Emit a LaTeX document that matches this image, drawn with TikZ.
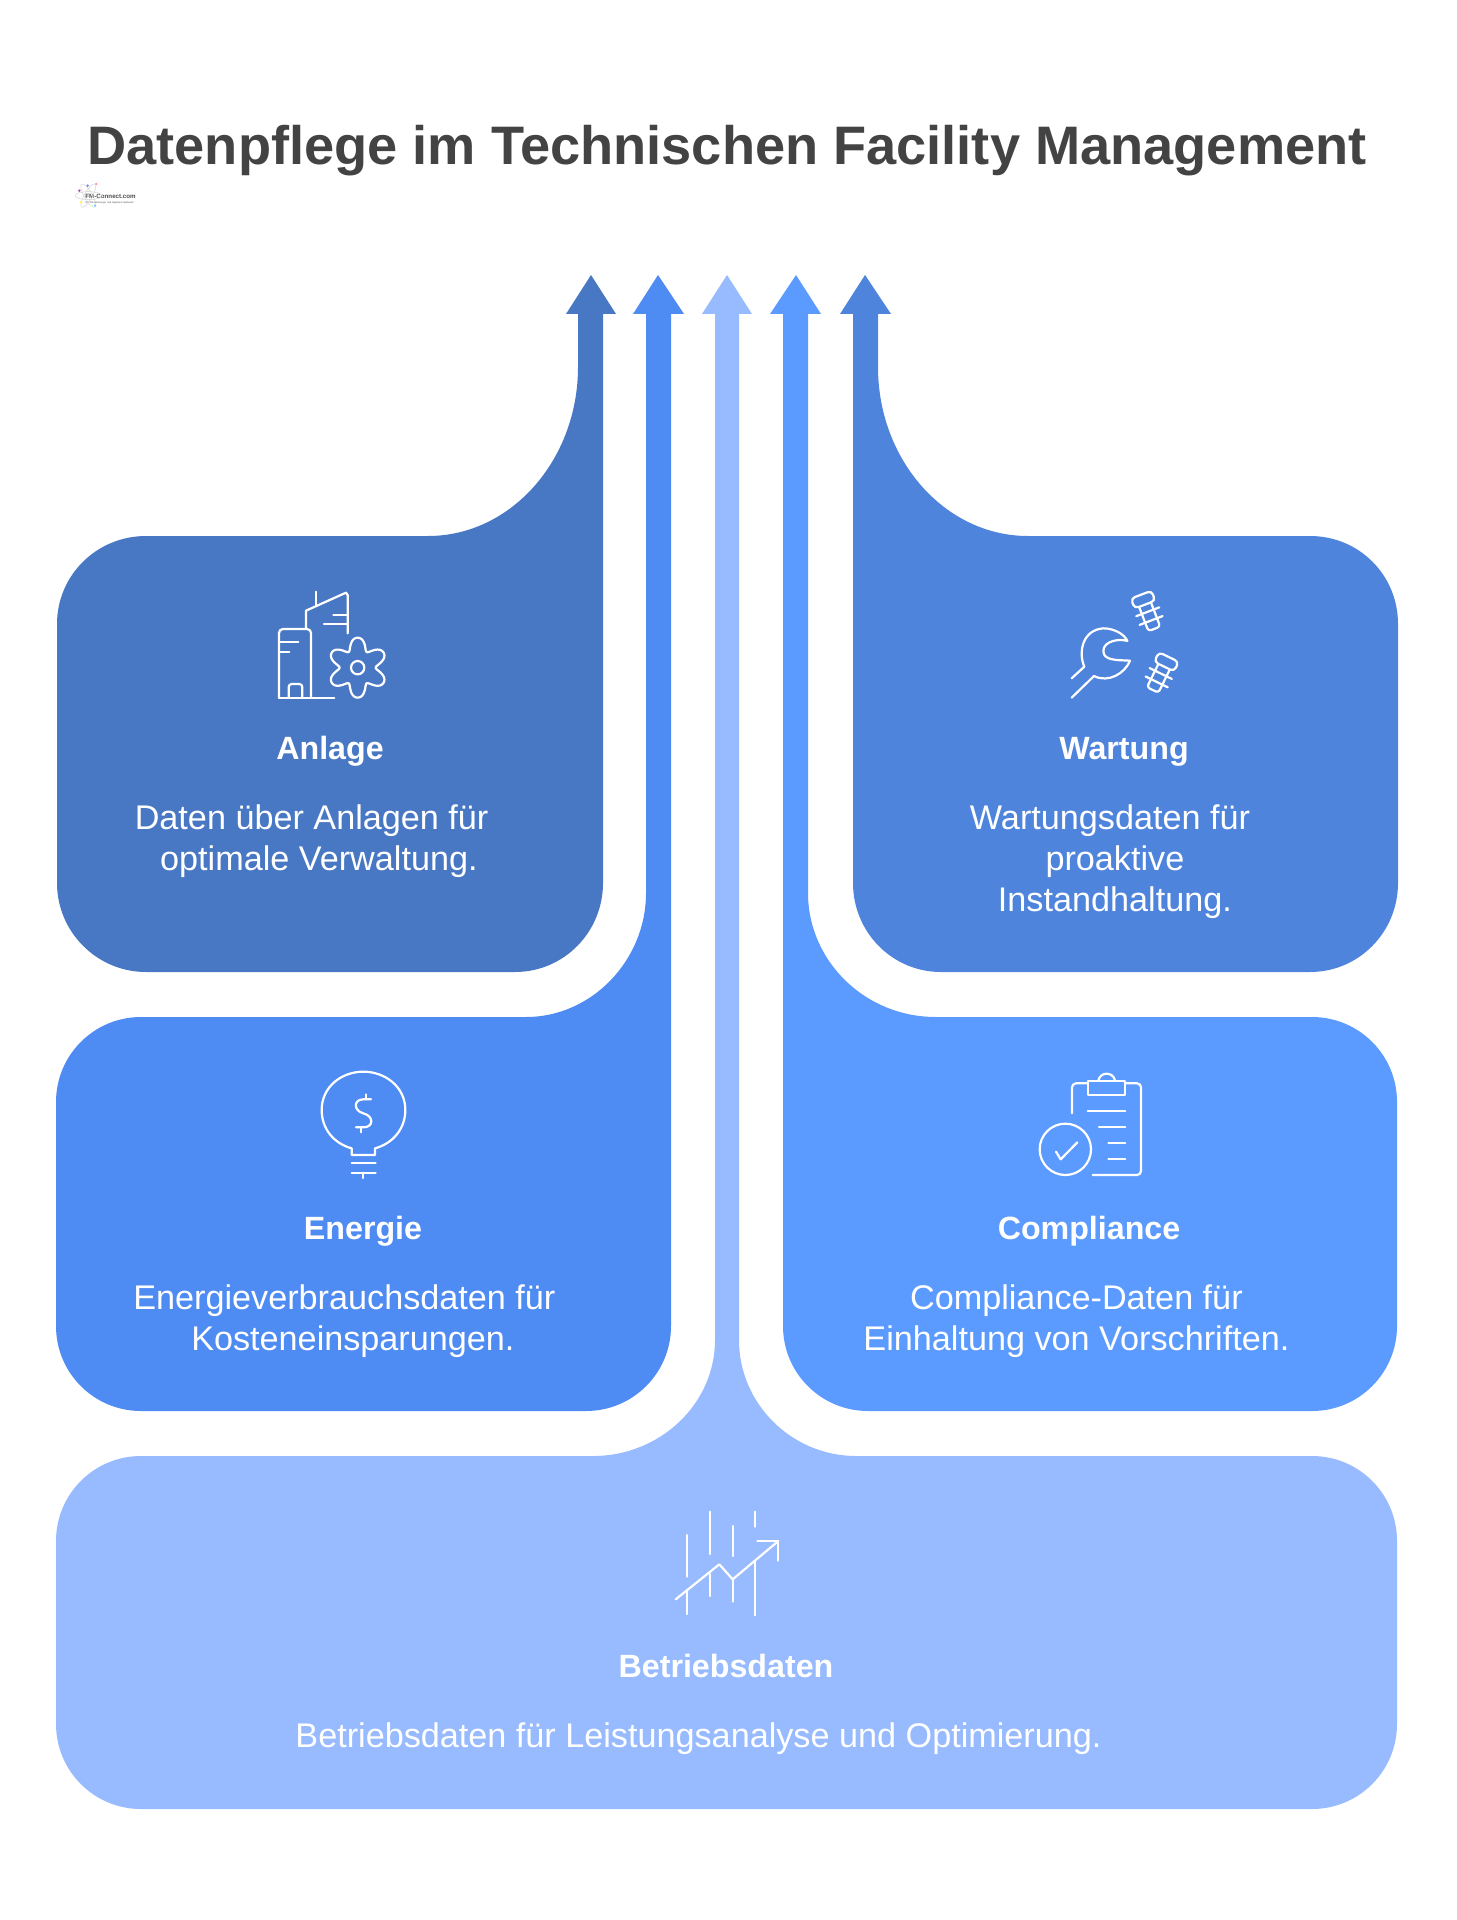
\documentclass[tikz,border=0pt]{standalone}
\usepackage{fontspec}
\setmainfont{Liberation Sans}
\usetikzlibrary{positioning}

\definecolor{anlageblue}{HTML}{4877C3}
\definecolor{energieblue}{HTML}{4E8BF2}
\definecolor{betriebblue}{HTML}{97BBFE}
\definecolor{complianceblue}{HTML}{5B9AFE}
\definecolor{wartungblue}{HTML}{4E84DC}
\definecolor{titlegray}{HTML}{434343}

\begin{document}
\begin{tikzpicture}[
		x=0.5pt,
		y=-0.5pt,
		titletext/.style={
			font=\fontsize{27.1}{32}\selectfont\bfseries,
			text=titlegray,
			inner sep=0pt,
			anchor=base
		},
		head/.style={
			font=\fontsize{16.1}{19}\selectfont\bfseries,
			text=white,
			inner sep=0pt,
			anchor=base
		},
		desc/.style={
			font=\fontsize{17.1}{20.5}\selectfont,
			text=white,
			inner sep=0pt,
			align=center
		},
		icon/.style={
			draw=white,
			line width=1.1pt,
			line cap=round,
			line join=round
		},
		logotext/.style={
			text=black!70,
			inner sep=0pt,
			anchor=base west
		}
		]
		\useasboundingbox (0,0) rectangle (1456,1920);
		
		% --- Betriebsdaten (base) ---
		\fill[betriebblue] (727,275) -- (752,314) -- (739,314) -- (739,1340)
			.. controls (739,1404) and (792,1456) .. (856,1456) -- (1312,1456)
			.. controls (1359,1456) and (1397,1494) .. (1397,1541) -- (1397,1724)
			.. controls (1397,1771) and (1359,1809) .. (1312,1809) -- (141,1809)
			.. controls (94,1809) and (56,1771) .. (56,1724) -- (56,1541)
			.. controls (56,1494) and (94,1456) .. (141,1456) -- (593,1456)
			.. controls (660,1456) and (715,1404) .. (715,1340)
			-- (715,314) -- (702,314) -- cycle;
		
		% --- Energie ---
		\fill[energieblue] (658,275) -- (684,314) -- (671,314) -- (671,1326)
			.. controls (671,1373) and (633,1411) .. (586,1411) -- (141,1411)
			.. controls (94,1411) and (56,1373) .. (56,1326) -- (56,1102)
			.. controls (56,1055) and (94,1017) .. (141,1017) -- (526,1017)
			.. controls (592,1017) and (646,960) .. (646,893)
			-- (646,314) -- (633,314) -- cycle;
		
		% --- Compliance ---
		\fill[complianceblue] (796,275) -- (770,314) -- (783,314) -- (783,1326)
			.. controls (783,1373) and (821,1411) .. (868,1411) -- (1312,1411)
			.. controls (1359,1411) and (1397,1373) .. (1397,1326) -- (1397,1102)
			.. controls (1397,1055) and (1359,1017) .. (1312,1017) -- (936,1017)
			.. controls (864,1017) and (808,960) .. (808,893)
			-- (808,314) -- (821,314) -- cycle;
		
		% --- Anlage ---
		\fill[anlageblue] (591,275) -- (616,314) -- (603,314) -- (603,883)
			.. controls (603,932) and (564,972) .. (515,972) -- (146,972)
			.. controls (97,972) and (57,932) .. (57,883) -- (57,624)
			.. controls (57,575) and (97,536) .. (146,536) -- (428,536)
			.. controls (511,536) and (578,460) .. (578,367)
			-- (578,314) -- (566,314) -- cycle;
		
		% --- Wartung ---
		\fill[wartungblue] (865,275) -- (840,314) -- (853,314) -- (853,883)
			.. controls (853,932) and (892,972) .. (941,972) -- (1310,972)
			.. controls (1359,972) and (1398,932) .. (1398,883) -- (1398,624)
			.. controls (1398,575) and (1359,536) .. (1310,536) -- (1028,536)
			.. controls (945,536) and (878,460) .. (878,367)
			-- (878,314) -- (891,314) -- cycle;
		
		% --- Title and logo ---
		\node[titletext] (title) at (727,165) {Datenpflege im Technischen Facility Management};
		\node[logotext, font=\fontsize{3.1}{4}\selectfont\bfseries] (logoname) at (85,199) {FM-Connect.com};
		\node[logotext, font=\fontsize{1.25}{2}\selectfont, below=1pt of logoname.south west, anchor=north west] (logosub) {Die FM-Beratungs- und Ingenieur-Netzwerk};
		\begin{scope}[shift={(0,80)},scale=1/3]
			\foreach \ang in {0,60,120} {
				\draw[black!20, line width=0.2pt, rotate around={\ang:(265,347)}] (265,347) ellipse (40 and 12);
			}
			\fill[violet!70] (238,332) circle (4);
			\fill[blue!50] (263,317) circle (4);
			\fill[red!40] (289,312) circle (4);
			\fill[yellow!70] (243,367) circle (4);
			\fill[cyan!60] (285,377) circle (4);
		\end{scope}
		
		% --- Anlage text and icon ---
		\node[head] (anlagehead) at (330,759) {Anlage};
		\node[desc, below=22.5pt of anlagehead.base, xshift=-9.2pt] (anlagedesc) {Daten über Anlagen für\\\hspace*{7.3pt}optimale Verwaltung.};
		\begin{scope}[shift={(240,570)},scale=1/3]
			\draw[icon, rounded corners=2pt] (117,383) -- (117,177) -- (213,177) -- (213,383);
			\draw[icon] (117,383) -- (283,383);
			\draw[icon, rounded corners=1.5pt] (146,383) -- (146,342) -- (187,342) -- (187,383);
			\draw[icon] (120,217) -- (175,217);
			\draw[icon] (120,245) -- (148,245);
			\draw[icon] (198,175) -- (198,122) -- (318,68) -- (323,75) -- (323,190);
			\draw[icon] (227,65) -- (227,108);
			\draw[icon] (280,135) -- (320,135);
			\draw[icon] (252,162) -- (320,162);
			\draw[icon, smooth, samples=120, domain=0:360] plot ({353+(74+18*cos(6*(\x-90))-2*cos(12*(\x-90)))*cos(\x)}, {293+(74+18*cos(6*(\x-90))-2*cos(12*(\x-90)))*sin(\x)}) -- cycle;
			\draw[icon] (353,293) circle (20);
		\end{scope}
		
		% --- Wartung text and icon ---
		\node[head] (wartunghead) at (1124,759) {Wartung};
		\node[desc, below=22.5pt of wartunghead.base, xshift=-7pt] (wartungdesc) {Wartungsdaten für\\\hspace*{4.9pt}proaktive\\\hspace*{4.9pt}Instandhaltung.};
		\begin{scope}[shift={(1040,570)},scale=1/3]
			\draw[icon] (95,325) -- (133,290)
				.. controls (115,250) and (125,180) .. (190,175)
				.. controls (225,175) and (255,195) .. (262,213)
				.. controls (240,205) and (190,212) .. (190,243)
				.. controls (190,272) and (230,270) .. (270,272)
				.. controls (255,310) and (205,340) .. (162,318) -- (95,383);
			\foreach \cx/\cy/\ang in {325/130/21, 360/315/-26} {
				\begin{scope}[shift={(\cx,\cy)},rotate=\ang]
					\draw[icon, rounded corners=2pt] (-33,-60) rectangle (33,-28);
					\draw[icon, rounded corners=1.5pt] (-19,-28) -- (-19,50) -- (19,50) -- (19,-28);
					\draw[icon] (-37,-5) -- (37,-5);
					\draw[icon] (-37,23) -- (37,23);
				\end{scope}
			}
		\end{scope}
		
		% --- Energie text and icon ---
		\node[head] (energiehead) at (363,1239) {Energie};
		\node[desc, below=22.5pt of energiehead.base, xshift=-9.3pt] (energiedesc) {Energieverbrauchsdaten für\\\hspace*{8.5pt}Kosteneinsparungen.};
		\begin{scope}[shift={(300,1050)},scale=1/3]
			\draw[icon] (155,295) .. controls (100,280) and (65,235) .. (65,180)
				.. controls (65,110) and (125,65) .. (190,65)
				.. controls (255,65) and (316,110) .. (316,180)
				.. controls (316,235) and (280,280) .. (225,295)
				-- (225,315) -- (155,315) -- cycle;
			\draw[icon] (155,340) -- (227,340);
			\draw[icon] (155,368) -- (227,368);
			\draw[icon] (190,368) -- (190,384);
			\draw[icon] (213,148) -- (190,148) .. controls (160,148) and (160,182) .. (190,190)
				.. controls (222,198) and (222,232) .. (190,232) -- (168,232);
			\draw[icon] (198,133) -- (198,148);
			\draw[icon] (183,232) -- (183,247);
		\end{scope}
		
		% --- Compliance text and icon ---
		\node[head] (compliancehead) at (1089,1239) {Compliance};
		\node[desc, below=22.5pt of compliancehead.base, xshift=-6.3pt] (compliancedesc) {Compliance-Daten für\\Einhaltung von Vorschriften.};
		\begin{scope}[shift={(1020,1060)},scale=1/3]
			\draw[icon, rounded corners=2pt] (156,160) -- (156,70) -- (202,70);
			\draw[icon, rounded corners=2pt] (318,70) -- (363,70) -- (363,345) -- (218,345);
			\draw[icon] (203,62) rectangle (316,105);
			\draw[icon] (235,62) .. controls (240,34) and (280,34) .. (285,62);
			\draw[icon] (203,152) -- (316,152);
			\draw[icon] (237,200) -- (316,200);
			\draw[icon] (265,248) -- (316,248);
			\draw[icon] (265,296) -- (316,296);
			\draw[icon] (136,268) circle (77);
			\draw[icon] (108,275) -- (122,298) -- (172,247);
		\end{scope}
		
		% --- Betriebsdaten text and icon ---
		\node[head] (betriebhead) at (726,1677) {Betriebsdaten};
		\node[desc, below=22.5pt of betriebhead.base, xshift=-13.75pt] (betriebdesc) {Betriebsdaten für Leistungsanalyse und Optimierung.};
		\begin{scope}[shift={(650,1490)},scale=1/3]
			\draw[icon] (110,135) -- (110,260);
			\draw[icon] (179,65) -- (179,192);
			\draw[icon] (248,108) -- (248,198);
			\draw[icon] (316,65) -- (316,110);
			\draw[icon] (110,300) -- (110,372);
			\draw[icon] (179,252) -- (179,318);
			\draw[icon] (248,268) -- (248,335);
			\draw[icon] (316,215) -- (316,376);
			\draw[icon] (77,328) -- (208,223) -- (248,268) -- (385,153);
			\draw[icon] (322,153) -- (385,153) -- (385,212);
		\end{scope}
		
	\end{tikzpicture}
\end{document}
